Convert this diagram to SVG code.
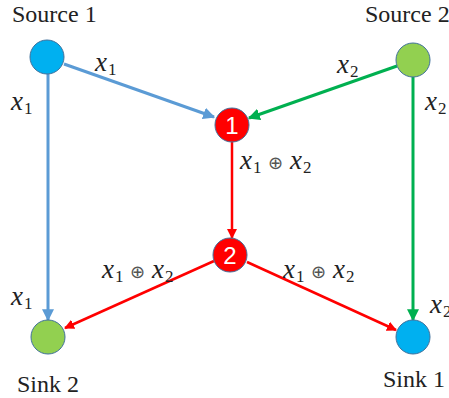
<svg xmlns="http://www.w3.org/2000/svg" width="449" height="398" viewBox="0 0 449 398">
<defs>
<marker id="ab" viewBox="0 0 10 10" refX="9" refY="5" markerWidth="4" markerHeight="4" orient="auto"><path d="M0,0 L10,5 L0,10 z" fill="#5B9BD5"/></marker>
<marker id="ag" viewBox="0 0 10 10" refX="9" refY="5" markerWidth="4" markerHeight="4" orient="auto"><path d="M0,0 L10,5 L0,10 z" fill="#00B050"/></marker>
<marker id="ar" viewBox="0 0 10 10" refX="9" refY="5" markerWidth="4" markerHeight="4" orient="auto"><path d="M0,0 L10,5 L0,10 z" fill="#FF0000"/></marker>
</defs>
<style>
.t{font-family:"Liberation Serif","DejaVu Serif",serif;font-size:24px;fill:#222}
.m{font-family:"Liberation Serif","DejaVu Serif",serif;font-size:27px;font-style:italic;fill:#222}
.s{font-size:17px;font-style:normal}
.o{font-family:"DejaVu Sans",sans-serif;font-size:18px;font-style:normal;fill:#555}
.num{font-family:"Liberation Sans",Arial,sans-serif;font-size:24px;fill:#fff;text-anchor:middle}
.b{stroke:#5B9BD5;stroke-width:3;fill:none}
.g{stroke:#00B050;stroke-width:3;fill:none}
.r{stroke:#FF0000;stroke-width:2.5;fill:none}
.node{stroke:#41719C;stroke-width:1}
</style>
<g id="connectors">
<line class="b" x1="64" y1="64" x2="214" y2="117" marker-end="url(#ab)"/>
<line class="b" x1="48" y1="74" x2="48" y2="320" marker-end="url(#ab)"/>
<line class="g" x1="397" y1="66" x2="249" y2="118" marker-end="url(#ag)"/>
<line class="g" x1="413" y1="77" x2="413" y2="320" marker-end="url(#ag)"/>
<line class="r" x1="232" y1="142" x2="232" y2="238" marker-end="url(#ar)"/>
<line class="r" x1="214" y1="261" x2="65" y2="328" marker-end="url(#ar)"/>
<line class="r" x1="247" y1="262" x2="396" y2="330" marker-end="url(#ar)"/>
</g>
<g id="source1"><circle class="node" cx="47" cy="57" r="17" fill="#00B0F0"/><text class="t" x="12" y="22">Source 1</text></g>
<g id="source2"><circle class="node" cx="413" cy="60" r="17" fill="#92D050" stroke="#70AD47"/><text class="t" x="365" y="22">Source 2</text></g>
<g id="node1"><circle class="node" cx="232" cy="125" r="17" fill="#FF0000"/><text class="num" x="232" y="134">1</text></g>
<g id="node2"><circle class="node" cx="230" cy="255" r="17" fill="#FF0000"/><text class="num" x="230" y="264">2</text></g>
<g id="sink2"><circle class="node" cx="48" cy="337" r="17" fill="#92D050" stroke="#70AD47"/><text class="t" x="17" y="392">Sink 2</text></g>
<g id="sink1"><circle class="node" cx="413" cy="337" r="17" fill="#00B0F0"/><text class="t" x="383" y="387">Sink 1</text></g>
<g id="labels">
<text class="m" x="95" y="71">x<tspan class="s" x="108" y="75">1</tspan></text>
<text class="m" x="11" y="110">x<tspan class="s" x="24" y="114">1</tspan></text>
<text class="m" x="337" y="73">x<tspan class="s" x="350" y="77">2</tspan></text>
<text class="m" x="425" y="110">x<tspan class="s" x="438" y="114">2</tspan></text>
<text class="m" x="240" y="169">x<tspan class="s" x="253" y="173">1</tspan><tspan class="o" x="268" y="169">⊕</tspan><tspan x="290" y="169">x</tspan><tspan class="s" x="303" y="173">2</tspan></text>
<text class="m" x="102" y="278">x<tspan class="s" x="115" y="282">1</tspan><tspan class="o" x="130" y="278">⊕</tspan><tspan x="152" y="278">x</tspan><tspan class="s" x="165" y="282">2</tspan></text>
<text class="m" x="283" y="278">x<tspan class="s" x="296" y="282">1</tspan><tspan class="o" x="311" y="278">⊕</tspan><tspan x="333" y="278">x</tspan><tspan class="s" x="346" y="282">2</tspan></text>
<text class="m" x="11" y="305">x<tspan class="s" x="24" y="309">1</tspan></text>
<text class="m" x="430" y="313">x<tspan class="s" x="443" y="317">2</tspan></text>
</g>
</svg>
